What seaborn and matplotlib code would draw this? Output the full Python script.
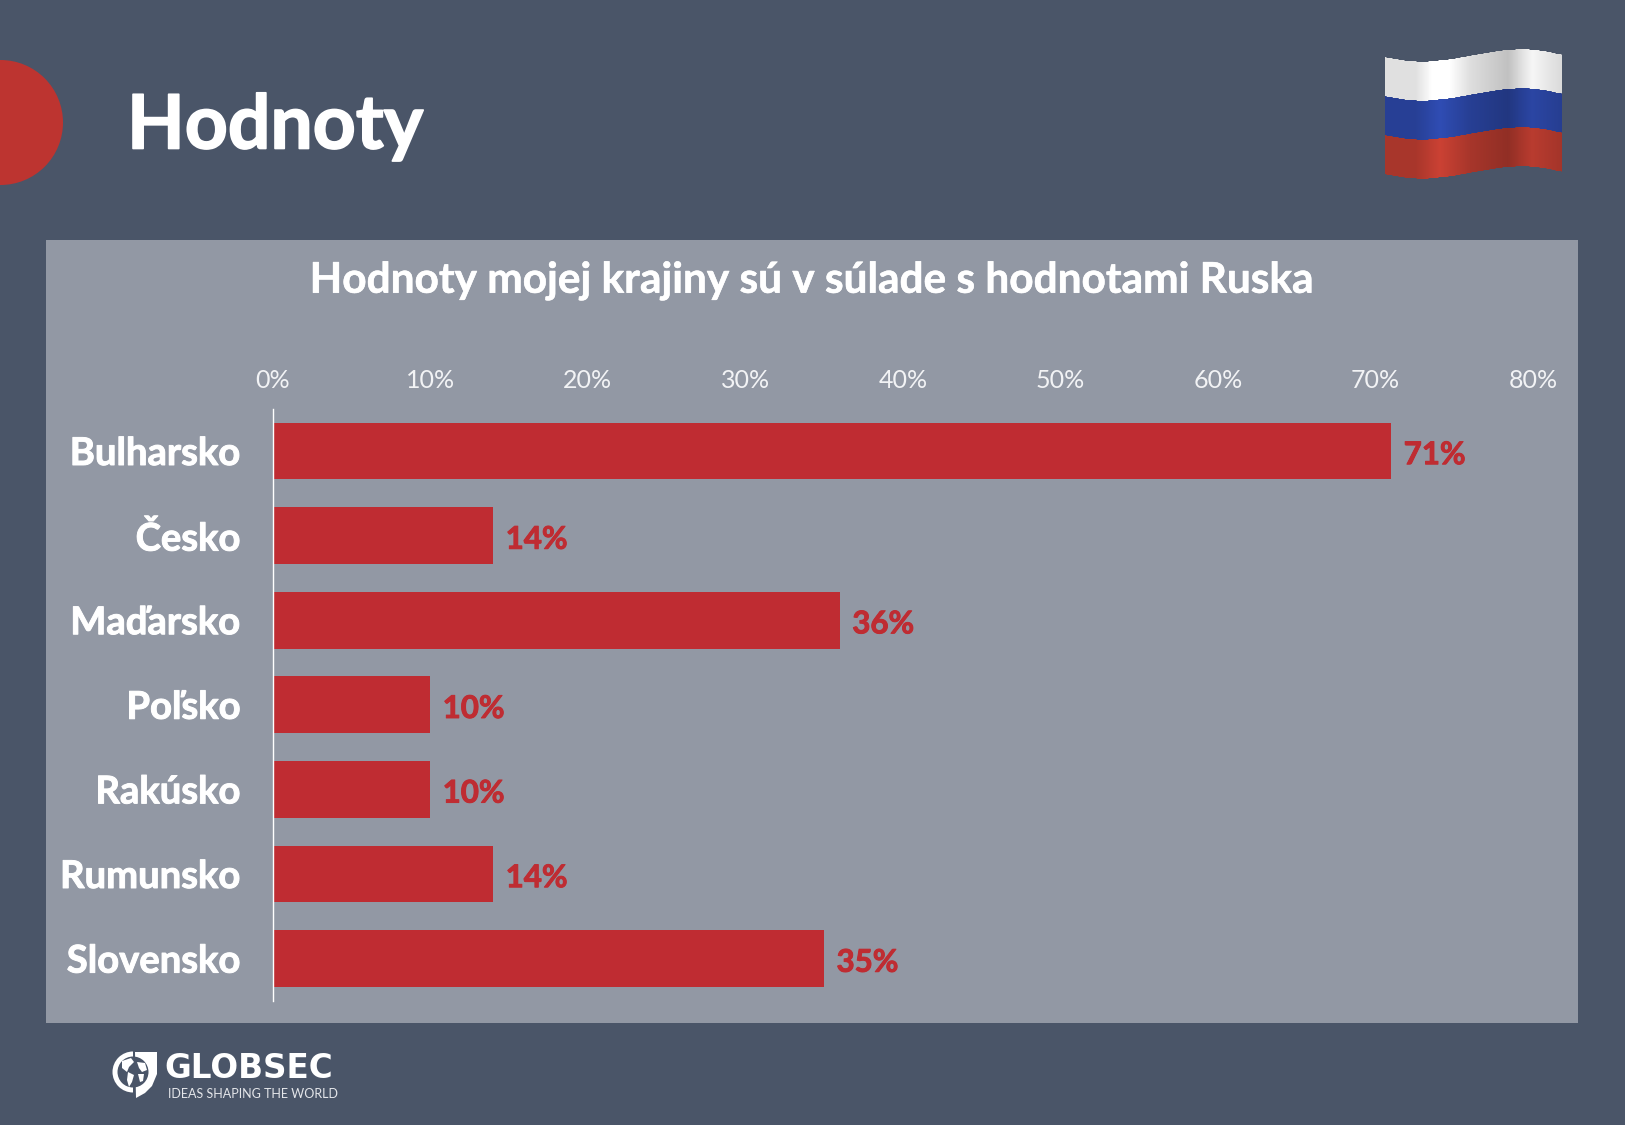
import numpy as np
import pandas as pd
import matplotlib
matplotlib.use("Agg")
import matplotlib.pyplot as plt
import matplotlib.patheffects as pe
import seaborn as sns
from matplotlib.patches import Circle, Polygon, Rectangle, Wedge

countries = ["Bulharsko", "Česko", "Maďarsko", "Poľsko", "Rakúsko", "Rumunsko", "Slovensko"]
values = [71, 14, 36, 10, 10, 14, 35]
x_ticks = [0, 10, 20, 30, 40, 50, 60, 70, 80]

BG = "#4a5568"
PANEL = "#9298a4"
RED = "#bf2c32"
W, H = 1625, 1125

sns.set_theme(style="white")
plt.rcParams["font.family"] = ["Lato", "DejaVu Sans"]


def thicken(text, width, color):
    # Lato Bold is a little lighter than the reference type
    text.set_path_effects([pe.withStroke(linewidth=width, foreground=color)])


fig = plt.figure(figsize=(W / 100, H / 100), dpi=100, facecolor=BG)

# backdrop in pixel coordinates: panel, circle, flag, logo
bg = fig.add_axes([0, 0, 1, 1], zorder=0)
bg.set_xlim(0, W)
bg.set_ylim(H, 0)
bg.axis("off")
bg.add_patch(Rectangle((46, 240), 1532, 783, color=PANEL, lw=0))
bg.add_patch(Circle((0.5, 122.5), 62.5, color="#bd3430", lw=0))
head = bg.text(127, 127, "Hodnoty", color="white", fontsize=54, fontweight="bold", va="center", ha="left")
thicken(head, 1.2, "white")
sub = bg.text(812, 281, "Hodnoty mojej krajiny sú v súlade s hodnotami Ruska", color="white",
              fontsize=30.5, fontweight="bold", va="center", ha="center")
thicken(sub, 0.4, "white")

# flag
fx = np.linspace(1385, 1562, 180)
wave = np.interp(fx, [1385, 1403, 1422, 1450, 1480, 1505, 1525, 1545, 1562],
                 [57, 60.5, 62, 59.5, 54, 50, 49, 51, 55])
wave = np.convolve(np.pad(wave, 6, mode="edge"), np.ones(13) / 13, mode="valid")
shade = np.interp(fx, [1385, 1415, 1440, 1470, 1507, 1532, 1562],
                  [0.93, 0.93, 1.12, 0.92, 0.80, 1.02, 0.90])
bands = [("#f1f1f1", 0, 39), ("#2a44a0", 39, 78), ("#b53a2e", 78, 117)]
for col, y0, y1 in bands:
    X = np.tile(fx, (2, 1))
    Y = np.vstack([wave + y0, wave + y1])
    base = np.array(matplotlib.colors.to_rgb(col))
    C = np.clip(base[None, None, :] * shade[:-1, None][None, :, :], 0, 1)
    bg.pcolormesh(X, Y, C, shading="flat", antialiased=True, lw=0)

# logo
bg.add_patch(Polygon([(135, 1052), (157, 1052), (157, 1074), (152, 1086), (145, 1093), (136, 1098)],
                     color="white", lw=0))
bg.add_patch(Wedge((133, 1072), 20.5, 90, 270, color="white", lw=0))
bg.add_patch(Circle((133, 1072), 15.5, color=BG, lw=0))
for shape in [[(122, 1061), (131, 1058), (134, 1062), (129, 1067), (127, 1072), (122, 1068)],
              [(128, 1072), (134, 1075), (132, 1082), (129, 1087), (127, 1080)],
              [(137, 1062), (145, 1063), (147, 1070), (142, 1072), (139, 1068)],
              [(138, 1074), (144, 1074), (143, 1081), (140, 1082)]]:
    bg.add_patch(Polygon(shape, color="white", lw=0))
bg.text(164, 1068.5, "GLOBSEC", color="white", family="DejaVu Sans", fontsize=23.5, fontweight="bold",
        va="center", ha="left")
bg.text(168.5, 1093.5, "IDEAS SHAPING THE WORLD", color="#e4e6ea", fontsize=9, va="center", ha="left")

# chart
left, right, top, bottom = 272.6, 1533, 408.7, 1000.9
ax = fig.add_axes([left / W, 1 - bottom / H, (right - left) / W, (bottom - top) / H], zorder=1)
ax.patch.set_alpha(0)

df = pd.DataFrame({"country": countries, "value": values})
sns.barplot(data=df, x="value", y="country", color=RED, saturation=1, width=0.67, linewidth=0, ax=ax)
ax.set_xlim(0, 80)
ax.set_ylim(6.5, -0.5)
ax.set_xlabel("")
ax.set_ylabel("")
ax.xaxis.tick_top()
ax.set_xticks(x_ticks, [f"{t}%" for t in x_ticks])
ax.tick_params(axis="x", length=0, pad=12, labelsize=18, labelcolor="#f2f3f5")
ax.tick_params(axis="y", length=0, pad=23, labelsize=27.5, labelcolor="white")
for lab in ax.get_yticklabels():
    lab.set_fontweight("bold")
    thicken(lab, 0.7, "white")
value_labels = ax.bar_label(ax.containers[0], fmt="%d%%", padding=9, color=RED, fontsize=22.5, fontweight="bold")
for lab in value_labels:
    lab.xyann = (lab.xyann[0], lab.xyann[1] - 3)
    thicken(lab, 0.7, RED)

sns.despine(ax=ax, top=True, right=True, bottom=True)
ax.spines["left"].set_color("white")
ax.spines["left"].set_linewidth(1)

fig.savefig("out.png", dpi=100, facecolor=BG)
